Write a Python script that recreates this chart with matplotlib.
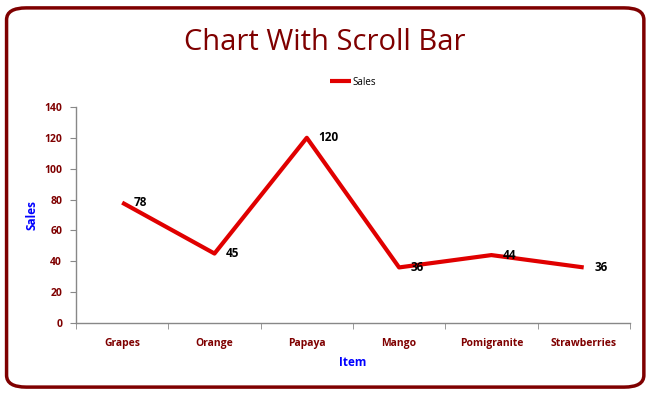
import numpy as np
import matplotlib
matplotlib.use("Agg")
import matplotlib.pyplot as plt
from matplotlib.patches import FancyBboxPatch

items = ['Grapes', 'Orange', 'Papaya', 'Mango', 'Pomigranite', 'Strawberries']
sales = [78, 45, 120, 36, 44, 36]
yticks = [0, 20, 40, 60, 80, 100, 120, 140]

dark_red = '#7f0000'
plt.rcParams['font.family'] = ['Open Sans', 'DejaVu Sans']

fig = plt.figure(figsize=(6.57, 3.95), dpi=100)
ax = fig.add_axes([0.1157, 0.1823, 0.843, 0.547])

x = np.arange(len(items))
ax.plot(x, sales, color='#e00000', lw=3, label='Sales', solid_capstyle='butt')
for xi, v in zip(x, sales):
    ax.annotate(str(v), (xi, v), xytext=(8, 0), textcoords='offset points',
                ha='left', va='center', fontsize=8.5, fontweight='bold', color='black')

ax.set_xlim(-0.5, len(items) - 0.5)
ax.set_ylim(0, 140)
ax.set_yticks(yticks)
ax.set_xticks(x)
ax.set_xticklabels(items)
ax.set_xticks(np.arange(len(items) + 1) - 0.5, minor=True)
ax.tick_params(axis='x', which='major', length=0, pad=11)
ax.tick_params(axis='x', which='minor', length=4, color='#888888', direction='out')
ax.tick_params(axis='y', length=4, color='#888888', pad=6)
for lab in ax.get_xticklabels() + ax.get_yticklabels():
    lab.set_fontsize(7.5)
    lab.set_fontweight('bold')
    lab.set_color(dark_red)

for s in ['top', 'right']:
    ax.spines[s].set_visible(False)
for s in ['left', 'bottom']:
    ax.spines[s].set_color('#888888')
    ax.spines[s].set_linewidth(1)

ax.set_xlabel('Item', fontsize=8.5, fontweight='bold', color='#0000ff', labelpad=5)
ax.set_ylabel('Sales', fontsize=8.5, fontweight='bold', color='#0000ff', labelpad=4)

ax.legend(loc='lower center', bbox_to_anchor=(0.5, 1.048), frameon=False,
          fontsize=7, handlelength=2.2, handletextpad=0.1)

fig.text(0.495, 0.893, 'Chart With Scroll Bar', ha='center', va='center',
         fontsize=21, color=dark_red)

border = FancyBboxPatch((0.01, 0.02), 0.97, 0.96, transform=fig.transFigure,
                        boxstyle='round,pad=0,rounding_size=0.03',
                        fill=False, edgecolor=dark_red, lw=2.5)
fig.patches.append(border)

fig.savefig('out.png', dpi=100)
